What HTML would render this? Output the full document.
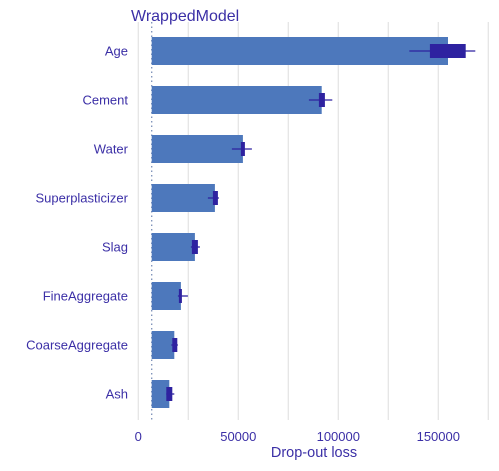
<!DOCTYPE html>
<html><head><meta charset="utf-8"><style>
body{margin:0;background:#fff;font-family:"Liberation Sans",sans-serif;}
svg text{font-family:"Liberation Sans",sans-serif;fill:#3b2fa6;}
</style></head><body>
<svg width="499" height="466">
<g id="grid"></g>
<line x1="151.7" x2="151.7" y1="22" y2="420" stroke="#7b8fb8" stroke-width="1.3" stroke-dasharray="1.5,3"/>
<g id="bars"></g>
<g id="ylabels"></g>
<g id="xticks"></g>
<text x="131" y="21" font-size="16">WrappedModel</text>
<text x="314" y="457" font-size="14.5" text-anchor="middle">Drop-out loss</text>
</svg>
<script>
const categories=["Age","Cement","Water","Superplasticizer","Slag","FineAggregate","CoarseAggregate","Ash"];
const values=[154850,91700,52300,38300,28300,21300,18000,15500];
const boxLo=[145800,90300,51300,37300,26800,20300,17000,14000];
const boxHi=[163700,93300,53300,39800,29800,21800,19500,17000];
const whiskLo=[135500,85300,46800,34800,26300,19800,16500,14000];
const whiskHi=[168500,97000,56800,40300,30800,24800,19800,18000];
const baseline=6700;
const ticks=[0,50000,100000,150000];
const grids=[0,25000,50000,75000,100000,125000,150000,175000];
const x=v=>138.3+v*0.002;
const y=i=>51+i*49;
const NS="http://www.w3.org/2000/svg";
function mk(tag,attrs,parent){const e=document.createElementNS(NS,tag);for(const k in attrs)e.setAttribute(k,attrs[k]);document.getElementById(parent).appendChild(e);return e;}
grids.forEach(g=>{const l=mk('line',{x1:x(g),x2:x(g),y1:22,y2:420,stroke:'#e5e5e5','stroke-width':1.3},'grid');

});
ticks.forEach(t=>{const e=mk('text',{x:x(t),y:441,'font-size':13,'text-anchor':'middle'},'xticks');e.textContent=t;

});
categories.forEach((c,i)=>{const cy=y(i);
const b=mk('rect',{x:x(baseline),y:cy-14,width:x(values[i])-x(baseline),height:28,fill:'#4d78bc'},'bars');


const w=mk('line',{x1:x(whiskLo[i]),x2:x(whiskHi[i]),y1:cy,y2:cy,stroke:'#2e22a0','stroke-width':1.3},'bars');


const bx=mk('rect',{x:x(boxLo[i]),y:cy-7,width:x(boxHi[i])-x(boxLo[i]),height:14,fill:'#2e22a0'},'bars');


const t=mk('text',{x:128,y:cy+4.5,'font-size':13,'text-anchor':'end'},'ylabels');t.textContent=c;


});
</script>
</body></html>
